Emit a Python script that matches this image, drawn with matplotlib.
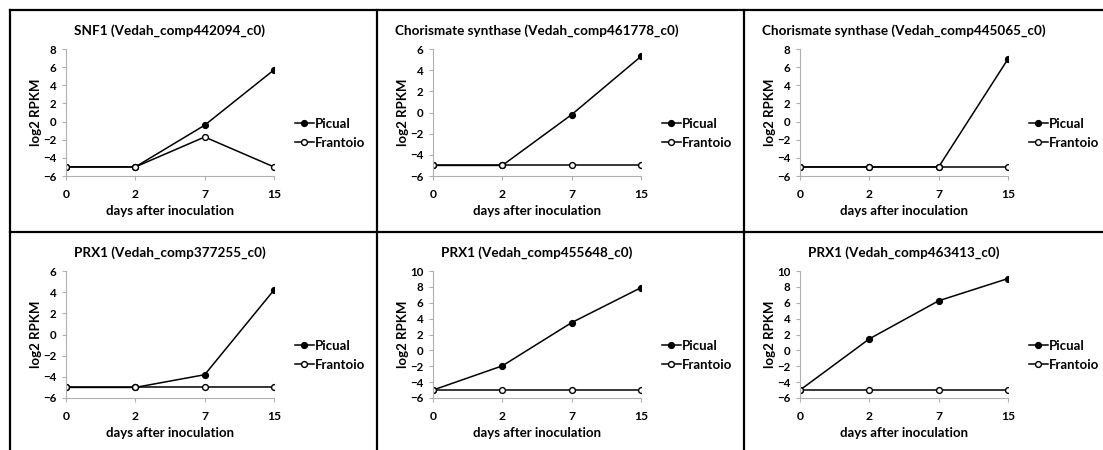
import matplotlib
matplotlib.use("Agg")
import matplotlib.pyplot as plt
from matplotlib.lines import Line2D

plt.rcParams['font.family'] = ['Lato', 'DejaVu Sans']
plt.rcParams['font.weight'] = 'bold'

days = ['0', '2', '7', '15']

titles = [
    'SNF1 (Vedah_comp442094_c0)',
    'Chorismate synthase (Vedah_comp461778_c0)',
    'Chorismate synthase (Vedah_comp445065_c0)',
    'PRX1 (Vedah_comp377255_c0)',
    'PRX1 (Vedah_comp455648_c0)',
    'PRX1 (Vedah_comp463413_c0)',
]
picual = [
    [-5, -5, -0.4, 5.7],
    [-5, -5, -0.2, 5.3],
    [-5, -5, -5, 6.9],
    [-5, -5, -3.8, 4.2],
    [-5, -1.95, 3.5, 7.9],
    [-5, 1.45, 6.25, 9.05],
]
frantoio = [
    [-5, -5, -1.7, -5],
    [-5, -5, -5, -5],
    [-5, -5, -5, -5],
    [-5, -5, -5, -5],
    [-5, -5, -5, -5],
    [-5, -5, -5, -5],
]
ymax = [8, 6, 8, 6, 10, 10]

W, H = 1103, 450
fig = plt.figure(figsize=(W / 100, H / 100), dpi=100)

panel_x = [10, 377, 744]
panel_y = [10, 232]

for i in range(6):
    px = panel_x[i % 3]
    py = panel_y[i // 3]
    left = px + 56
    top = py + 39
    ax = fig.add_axes([left / W, 1 - (top + 127) / H, 208 / W, 127 / H])
    x = range(len(days))
    ax.plot(x, picual[i], color='black', lw=1.1, marker='o', ms=4.2,
            mfc='black', mec='black', label='Picual')
    ax.plot(x, frantoio[i], color='black', lw=1.1, marker='o', ms=4.2,
            mfc='white', mec='black', label='Frantoio')
    ax.set_xlim(0, 3)
    ax.set_ylim(-6, ymax[i])
    ax.set_yticks(range(-6, ymax[i] + 1, 2))
    ax.set_xticks(list(x))
    ax.set_xticklabels(days)
    for s in ['top', 'right']:
        ax.spines[s].set_visible(False)
    for s in ['left', 'bottom']:
        ax.spines[s].set_color('#b0b0b0')
        ax.spines[s].set_linewidth(0.8)
    ax.tick_params(axis='y', length=3, color='#b0b0b0', labelsize=8.3, pad=4)
    ax.tick_params(axis='x', length=3, color='#b0b0b0', labelsize=8.7, pad=6)
    ax.set_title(titles[i], fontsize=9.7, fontweight='bold', pad=10)
    ax.set_xlabel('days after inoculation', fontsize=9.5, fontweight='bold', labelpad=4)
    ax.set_ylabel('log2 RPKM', fontsize=9.5, fontweight='bold', labelpad=1)
    ax.legend(loc='center left', bbox_to_anchor=(1.07, 0.335), frameon=False,
              fontsize=9.5, handlelength=1.4, handletextpad=0.1,
              borderpad=0, labelspacing=0.55)

# panel borders
for xv in panel_x:
    fig.add_artist(Line2D([xv / W, xv / W], [0, 1 - 10 / H], color='black', lw=1.6,
                          transform=fig.transFigure))
for yv in panel_y:
    fig.add_artist(Line2D([10 / W, 1], [1 - yv / H, 1 - yv / H], color='black', lw=1.6,
                          transform=fig.transFigure))

fig.savefig('out.png', dpi=100)
